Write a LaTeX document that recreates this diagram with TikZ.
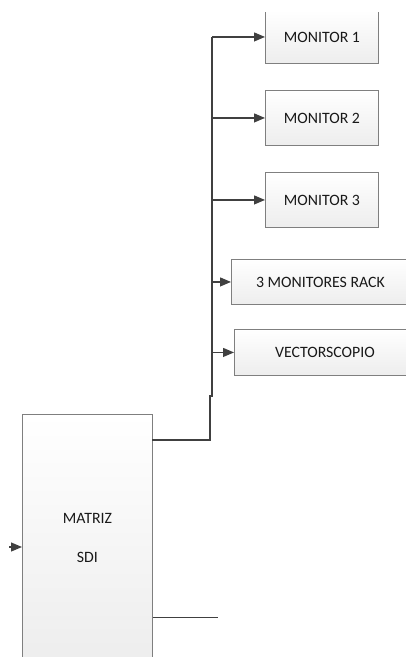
\documentclass[tikz,border=0pt]{standalone}
\usepackage{fontspec}
\setmainfont{Carlito}
\usetikzlibrary{arrows.meta,calc}
\definecolor{linec}{HTML}{404040}
\definecolor{boxc}{HTML}{7F7F7F}
\tikzset{
  boxn/.style={draw=boxc, line width=0.9pt, top color=white, bottom color=black!7,
    anchor=north west, inner sep=0pt, font=\fontsize{15.8}{39}\selectfont, text=black!90},
  conn/.style={draw=linec, line width=1.5pt},
  arr/.style={draw=linec, line width=1.2pt, -{Triangle[length=11pt,width=9pt]}},
}
\begin{document}
\begin{tikzpicture}[x=1pt,y=-1pt]
\useasboundingbox (0,0) rectangle (406,657);
\clip (0,12.5) rectangle (406,657);
% boxes
\node[boxn, minimum width=113pt, minimum height=53pt] (m1) at (265,10) {MONITOR 1};
\node[boxn, minimum width=113pt, minimum height=55pt] (m2) at (265,90) {MONITOR 2};
\node[boxn, minimum width=113pt, minimum height=55pt] (m3) at (265,172) {MONITOR 3};
\node[boxn, minimum width=178pt, minimum height=45pt] (rack) at (231,259) {3 MONITORES RACK};
\node[boxn, minimum width=181pt, minimum height=46pt] (vect) at (234,329) {VECTORSCOPIO};
\node[boxn, minimum width=130pt, minimum height=247pt, align=center] (mat) at (22,414) {MATRIZ\\SDI};
% bus
\coordinate (j) at (212,396);
\coordinate (mo) at (152,440);
\coordinate (out) at (218,617);
\coordinate (inp) at (9,547);
\draw[conn] (mo) -| (210,396) -- (j) -- (m1.west -| j);
\draw[arr] (m1.west -| j) -- (m1.west);
\draw[arr] (m2.west -| j) -- (m2.west);
\draw[arr] (m3.west -| j) -- (m3.west);
\draw[arr] (rack.west -| j) -- (rack.west);
\draw[arr] (vect.west -| j) -- (vect.west);
\draw[arr] (inp) -- (inp -| mat.west);
\draw[draw=linec, line width=1pt] (out -| mat.east) -- (out);
\end{tikzpicture}
\end{document}
